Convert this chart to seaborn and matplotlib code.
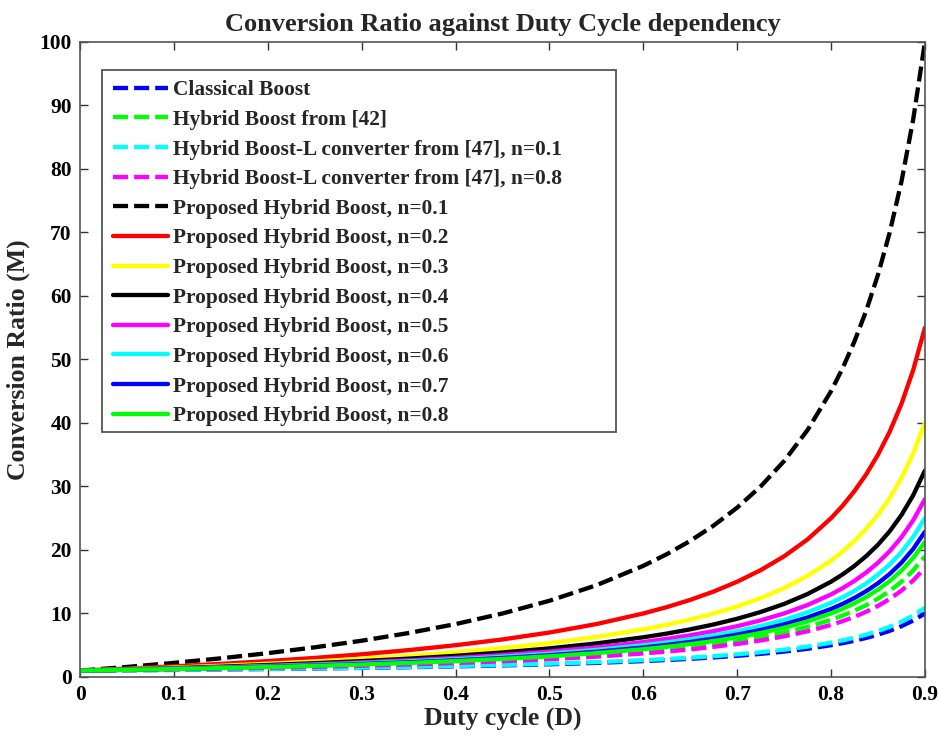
import matplotlib
matplotlib.use("Agg")
import matplotlib.pyplot as plt
from matplotlib.patches import Rectangle
import seaborn as sns
import pandas as pd

duty = [0, 0.05, 0.1, 0.15, 0.2, 0.25, 0.3, 0.35, 0.4, 0.45, 0.5, 0.55, 0.6,
        0.625, 0.65, 0.675, 0.7, 0.725, 0.75, 0.775, 0.8, 0.8125, 0.825,
        0.8375, 0.85, 0.8625, 0.875, 0.8875, 0.9]

classical = [1.00, 1.05, 1.11, 1.18, 1.25, 1.33, 1.43, 1.54, 1.67, 1.82, 2.00,
             2.22, 2.50, 2.67, 2.86, 3.08, 3.33, 3.64, 4.00, 4.44, 5.00, 5.33,
             5.71, 6.15, 6.67, 7.27, 8.00, 8.89, 10.0]
hybrid42 = [1.00, 1.11, 1.22, 1.35, 1.50, 1.67, 1.86, 2.08, 2.33, 2.64, 3.00,
            3.44, 4.00, 4.33, 4.71, 5.15, 5.67, 6.27, 7.00, 7.89, 9.00, 9.67,
            10.43, 11.31, 12.33, 13.55, 15.0, 16.78, 19.0]
hybridL_01 = [1.00, 1.06, 1.12, 1.19, 1.28, 1.37, 1.47, 1.59, 1.73, 1.90, 2.10,
              2.34, 2.65, 2.83, 3.04, 3.28, 3.57, 3.90, 4.30, 4.79, 5.40, 5.77,
              6.19, 6.67, 7.23, 7.90, 8.70, 9.68, 10.9]
hybridL_08 = [1.00, 1.09, 1.20, 1.32, 1.45, 1.60, 1.77, 1.97, 2.20, 2.47, 2.80,
              3.20, 3.70, 4.00, 4.34, 4.74, 5.20, 5.75, 6.40, 7.20, 8.20, 8.80,
              9.49, 10.28, 11.2, 12.29, 13.6, 15.2, 17.2]
prop_01 = [1.00, 1.58, 2.22, 2.94, 3.75, 4.67, 5.71, 6.92, 8.33, 10.0, 12.0,
           14.44, 17.5, 19.33, 21.43, 23.85, 26.67, 30.0, 34.0, 38.89, 45.0,
           48.67, 52.86, 57.69, 63.33, 70.0, 78.0, 87.78, 100.0]
prop_02 = [1.00, 1.32, 1.67, 2.06, 2.50, 3.00, 3.57, 4.23, 5.00, 5.91, 7.00,
           8.33, 10.0, 11.0, 12.14, 13.46, 15.0, 16.82, 19.0, 21.67, 25.0,
           27.0, 29.29, 31.92, 35.0, 38.64, 43.0, 48.33, 55.0]
prop_03 = [1.00, 1.23, 1.48, 1.76, 2.08, 2.44, 2.86, 3.33, 3.89, 4.55, 5.33,
           6.30, 7.50, 8.22, 9.05, 10.0, 11.11, 12.42, 14.0, 15.93, 18.33,
           19.78, 21.43, 23.33, 25.56, 28.18, 31.33, 35.19, 40.0]
prop_04 = [1.00, 1.18, 1.39, 1.62, 1.88, 2.17, 2.50, 2.88, 3.33, 3.86, 4.50,
           5.28, 6.25, 6.83, 7.50, 8.27, 9.17, 10.23, 11.5, 13.06, 15.0,
           16.17, 17.5, 19.04, 20.83, 22.95, 25.5, 28.61, 32.5]
prop_05 = [1.00, 1.16, 1.33, 1.53, 1.75, 2.00, 2.29, 2.62, 3.00, 3.45, 4.00,
           4.67, 5.50, 6.00, 6.57, 7.23, 8.00, 8.91, 10.0, 11.33, 13.0,
           14.0, 15.14, 16.46, 18.0, 19.82, 22.0, 24.67, 28.0]
prop_06 = [1.00, 1.14, 1.30, 1.47, 1.67, 1.89, 2.14, 2.44, 2.78, 3.18, 3.67,
           4.26, 5.00, 5.44, 5.95, 6.54, 7.22, 8.03, 9.00, 10.19, 11.67,
           12.56, 13.57, 14.74, 16.11, 17.73, 19.67, 22.04, 25.0]
prop_07 = [1.00, 1.13, 1.27, 1.43, 1.61, 1.81, 2.04, 2.31, 2.62, 2.99, 3.43,
           3.97, 4.64, 5.05, 5.51, 6.04, 6.67, 7.40, 8.29, 9.37, 10.71,
           11.52, 12.45, 13.52, 14.76, 16.23, 18.0, 20.16, 22.86]
prop_08 = [1.00, 1.12, 1.25, 1.40, 1.56, 1.75, 1.96, 2.21, 2.50, 2.84, 3.25,
           3.75, 4.38, 4.75, 5.18, 5.67, 6.25, 6.93, 7.75, 8.75, 10.0,
           10.75, 11.61, 12.60, 13.75, 15.11, 16.75, 18.75, 21.25]

labels = ["Classical Boost", "Hybrid Boost from [42]",
          "Hybrid Boost-L converter from [47], n=0.1",
          "Hybrid Boost-L converter from [47], n=0.8",
          "Proposed Hybrid Boost, n=0.1", "Proposed Hybrid Boost, n=0.2",
          "Proposed Hybrid Boost, n=0.3", "Proposed Hybrid Boost, n=0.4",
          "Proposed Hybrid Boost, n=0.5", "Proposed Hybrid Boost, n=0.6",
          "Proposed Hybrid Boost, n=0.7", "Proposed Hybrid Boost, n=0.8"]
series = [classical, hybrid42, hybridL_01, hybridL_08, prop_01, prop_02,
          prop_03, prop_04, prop_05, prop_06, prop_07, prop_08]
colors = ["#0000ff", "#00ff00", "#00ffff", "#ff00ff", "#000000", "#ff0000",
          "#ffff00", "#000000", "#ff00ff", "#00ffff", "#0000ff", "#00ff00"]
dashed = [True, True, True, True, True, False, False, False, False, False,
          False, False]

x_ticks = [0, 0.1, 0.2, 0.3, 0.4, 0.5, 0.6, 0.7, 0.8, 0.9]
y_ticks = [0, 10, 20, 30, 40, 50, 60, 70, 80, 90, 100]

sns.set_style("ticks")
plt.rcParams["font.family"] = ["Liberation Serif", "DejaVu Serif"]
plt.rcParams["font.weight"] = "bold"

fig = plt.figure(figsize=(9.39, 7.36), dpi=100)
ax = fig.add_axes([0.0852, 0.0802, 0.8998, 0.8628])

for lab, vals, col, dsh in zip(labels, series, colors, dashed):
    df = pd.DataFrame({"D": duty, "M": vals})
    sns.lineplot(data=df, x="D", y="M", ax=ax, color=col, lw=3.1,
                 linestyle=(0, (3.5, 1.4)) if dsh else "-", label=lab)

ax.set_xlim(0, 0.9)
ax.set_ylim(0, 100)
ax.set_xticks(x_ticks)
ax.set_xticklabels([f"{t:g}" for t in x_ticks])
ax.set_yticks(y_ticks)
ax.tick_params(direction="in", length=6, width=1, top=True, right=True,
               labelsize=15.4, pad=6, colors="#333333", labelcolor="black")
for lbl in ax.get_xticklabels() + ax.get_yticklabels():
    lbl.set_fontweight("bold")
for sp in ax.spines.values():
    sp.set_visible(True)
    sp.set_color("#555555")
    sp.set_linewidth(1.2)

ax.set_xlabel("Duty cycle (D)", fontsize=18.5, fontweight="bold", labelpad=1)
ax.set_ylabel("Conversion Ratio (M)", fontsize=18.5, fontweight="bold",
              labelpad=7)
ax.set_title("Conversion Ratio against Duty Cycle dependency", fontsize=19,
             fontweight="bold", pad=8)

# legend frame (MATLAB style, wide right margin)
frame = Rectangle((0.026, 0.3858), 0.608, 0.5702, transform=ax.transAxes,
                  facecolor="white", edgecolor="#555555", linewidth=1.3,
                  zorder=4.5)
ax.add_patch(frame)

leg = ax.legend(loc="upper left", bbox_to_anchor=(0.026, 0.9565),
                prop={"weight": "bold", "size": 15.4}, frameon=False,
                handlelength=2.57, handletextpad=0.23, labelspacing=0.45,
                borderpad=0.5, borderaxespad=0.0)
leg.set_zorder(5)

fig.savefig("out.png", dpi=100)
